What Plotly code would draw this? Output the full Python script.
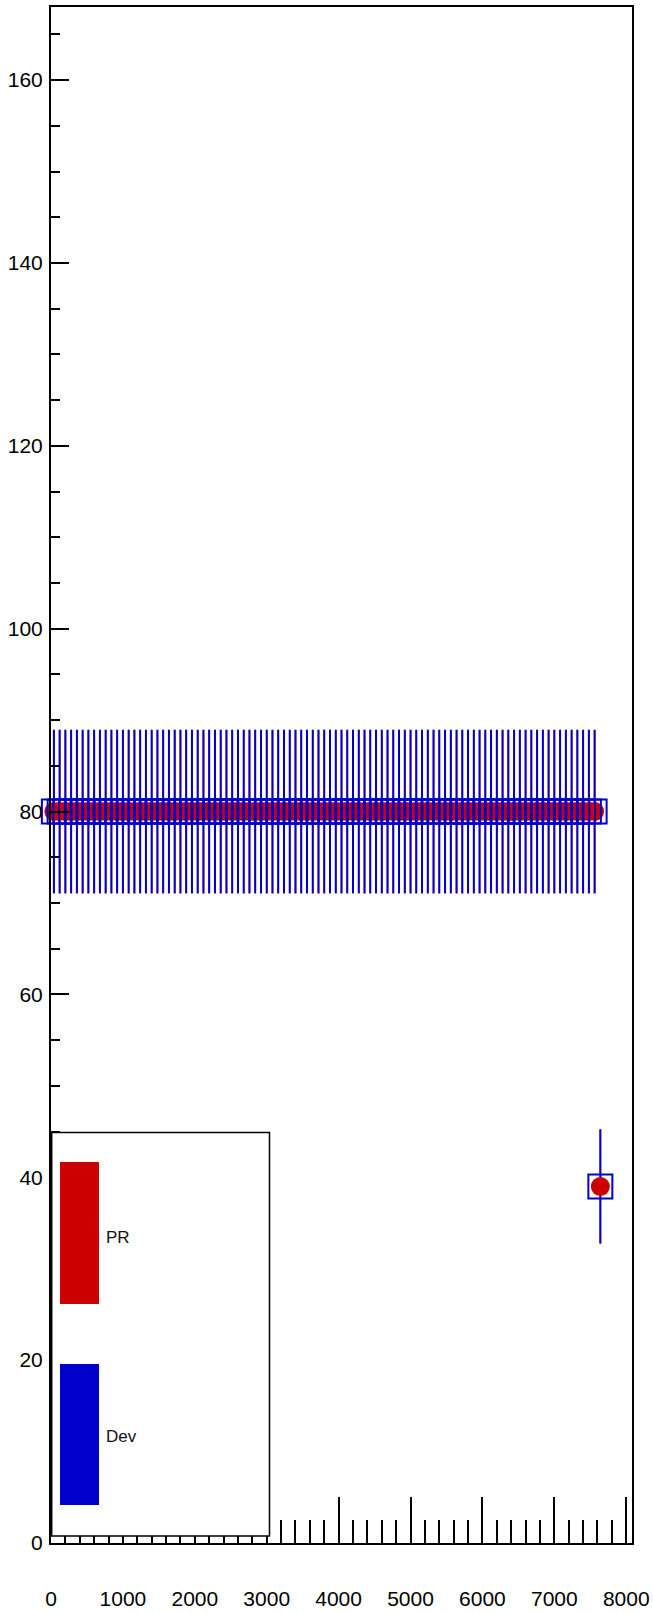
import numpy as np
import plotly.graph_objects as go

# ---- data (bin centres, counts for the two series) ----
x_vals = [40, 120, 200, 280, 360, 440, 520, 600, 680, 760,
          840, 920, 1000, 1080, 1160, 1240, 1320, 1400, 1480, 1560,
          1640, 1720, 1800, 1880, 1960, 2040, 2120, 2200, 2280, 2360,
          2440, 2520, 2600, 2680, 2760, 2840, 2920, 3000, 3080, 3160,
          3240, 3320, 3400, 3480, 3560, 3640, 3720, 3800, 3880, 3960,
          4040, 4120, 4200, 4280, 4360, 4440, 4520, 4600, 4680, 4760,
          4840, 4920, 5000, 5080, 5160, 5240, 5320, 5400, 5480, 5560,
          5640, 5720, 5800, 5880, 5960, 6040, 6120, 6200, 6280, 6360,
          6440, 6520, 6600, 6680, 6760, 6840, 6920, 7000, 7080, 7160,
          7240, 7320, 7400, 7480, 7560, 7640]

pr_counts = [80, 80, 80, 80, 80, 80, 80, 80, 80, 80,
             80, 80, 80, 80, 80, 80, 80, 80, 80, 80,
             80, 80, 80, 80, 80, 80, 80, 80, 80, 80,
             80, 80, 80, 80, 80, 80, 80, 80, 80, 80,
             80, 80, 80, 80, 80, 80, 80, 80, 80, 80,
             80, 80, 80, 80, 80, 80, 80, 80, 80, 80,
             80, 80, 80, 80, 80, 80, 80, 80, 80, 80,
             80, 80, 80, 80, 80, 80, 80, 80, 80, 80,
             80, 80, 80, 80, 80, 80, 80, 80, 80, 80,
             80, 80, 80, 80, 80, 39]

dev_counts = [80, 80, 80, 80, 80, 80, 80, 80, 80, 80,
              80, 80, 80, 80, 80, 80, 80, 80, 80, 80,
              80, 80, 80, 80, 80, 80, 80, 80, 80, 80,
              80, 80, 80, 80, 80, 80, 80, 80, 80, 80,
              80, 80, 80, 80, 80, 80, 80, 80, 80, 80,
              80, 80, 80, 80, 80, 80, 80, 80, 80, 80,
              80, 80, 80, 80, 80, 80, 80, 80, 80, 80,
              80, 80, 80, 80, 80, 80, 80, 80, 80, 80,
              80, 80, 80, 80, 80, 80, 80, 80, 80, 80,
              80, 80, 80, 80, 80, 39]

# Poisson errors of the counts
pr_err = np.sqrt(pr_counts)
dev_err = np.sqrt(dev_counts)

x_tickvals = [0, 1000, 2000, 3000, 4000, 5000, 6000, 7000, 8000]
x_ticktext = ["0", "1000", "2000", "3000", "4000", "5000", "6000", "7000", "8000"]
y_tickvals = [0, 20, 40, 60, 80, 100, 120, 140, 160]
y_ticktext = ["0", "20", "40", "60", "80", "100", "120", "140", "160"]

series_names = ["PR", "Dev"]

RED = "rgb(204,0,0)"
BLUE = "rgb(0,0,204)"
FONT = "Liberation Sans, Arial, sans-serif"

W, H = 653, 1613
ML, MR, MT, MB = 51, 21, 7, 70

fig = go.Figure()

# error bars first (red under blue)
fig.add_trace(go.Scatter(
    x=x_vals, y=pr_counts, mode="markers",
    marker=dict(color="rgba(0,0,0,0)", size=2),
    error_y=dict(type="data", array=pr_err, color=RED, thickness=1.5, width=0),
    showlegend=False, hoverinfo="skip", cliponaxis=False))
fig.add_trace(go.Scatter(
    x=x_vals, y=dev_counts, mode="markers",
    marker=dict(color="rgba(0,0,0,0)", size=2),
    error_y=dict(type="data", array=dev_err, color=BLUE, thickness=2, width=0),
    showlegend=False, hoverinfo="skip", cliponaxis=False))
# markers
fig.add_trace(go.Scatter(
    x=x_vals, y=pr_counts, mode="markers", name=series_names[0],
    marker=dict(symbol="circle", color=RED, size=19, line=dict(width=0)),
    showlegend=False, cliponaxis=False))
fig.add_trace(go.Scatter(
    x=x_vals, y=dev_counts, mode="markers", name=series_names[1],
    marker=dict(symbol="square-open", color=BLUE, size=24, line=dict(width=2, color=BLUE)),
    showlegend=False, cliponaxis=False))

pw = W - ML - MR
ph = H - MT - MB


def px_x(p):
    return (p - ML) / pw


def px_y(p):
    return 1 - (p - MT) / ph


shapes = []
# legend box
shapes.append(dict(type="rect", xref="paper", yref="paper",
                   x0=px_x(51.7), x1=px_x(269.5), y0=px_y(1536), y1=px_y(1132.5),
                   line=dict(color="black", width=1.5), fillcolor="white", layer="above"))
shapes.append(dict(type="rect", xref="paper", yref="paper",
                   x0=px_x(60), x1=px_x(99), y0=px_y(1304), y1=px_y(1162),
                   line=dict(width=0), fillcolor=RED, layer="above"))
shapes.append(dict(type="rect", xref="paper", yref="paper",
                   x0=px_x(60), x1=px_x(99), y0=px_y(1505), y1=px_y(1364),
                   line=dict(width=0), fillcolor=BLUE, layer="above"))

annotations = [
    dict(text=series_names[0], xref="paper", yref="paper", x=px_x(104), y=px_y(1237),
         xanchor="left", yanchor="middle", showarrow=False,
         font=dict(family=FONT, size=17, color="#111")),
    dict(text=series_names[1], xref="paper", yref="paper", x=px_x(104), y=px_y(1436),
         xanchor="left", yanchor="middle", showarrow=False,
         font=dict(family=FONT, size=17, color="#111")),
]

fig.update_layout(
    width=W, height=H,
    margin=dict(l=ML, r=MR, t=MT, b=MB, pad=0, autoexpand=False),
    paper_bgcolor="white", plot_bgcolor="white",
    font=dict(family=FONT, size=21, color="black"),
    shapes=shapes, annotations=annotations,
    showlegend=False,
)

fig.update_xaxes(
    range=[0, 8080], showgrid=False, zeroline=False, automargin=False,
    showline=True, linecolor="black", linewidth=2, mirror=True,
    ticks="inside", ticklen=46, tickwidth=2, tickcolor="black",
    tickvals=x_tickvals, ticktext=x_ticktext,
    tickfont=dict(family=FONT, size=21, color="black"),
    ticklabelstandoff=36,
    minor=dict(dtick=200, tick0=0, ticks="inside", ticklen=23, tickwidth=2, tickcolor="black"),
)
fig.update_yaxes(
    range=[0, 168], showgrid=False, zeroline=False, automargin=False,
    showline=True, linecolor="black", linewidth=2, mirror=True,
    ticks="inside", ticklen=18, tickwidth=2, tickcolor="black",
    tickvals=y_tickvals, ticktext=y_ticktext,
    tickfont=dict(family=FONT, size=21, color="black"),
    ticklabelstandoff=2,
    minor=dict(dtick=5, tick0=0, ticks="inside", ticklen=9, tickwidth=2, tickcolor="black"),
)

fig.write_html(
    "out.html",
    config={"displayModeBar": False},
    post_script="document.body.style.margin='0';document.body.style.padding='0';",
)
